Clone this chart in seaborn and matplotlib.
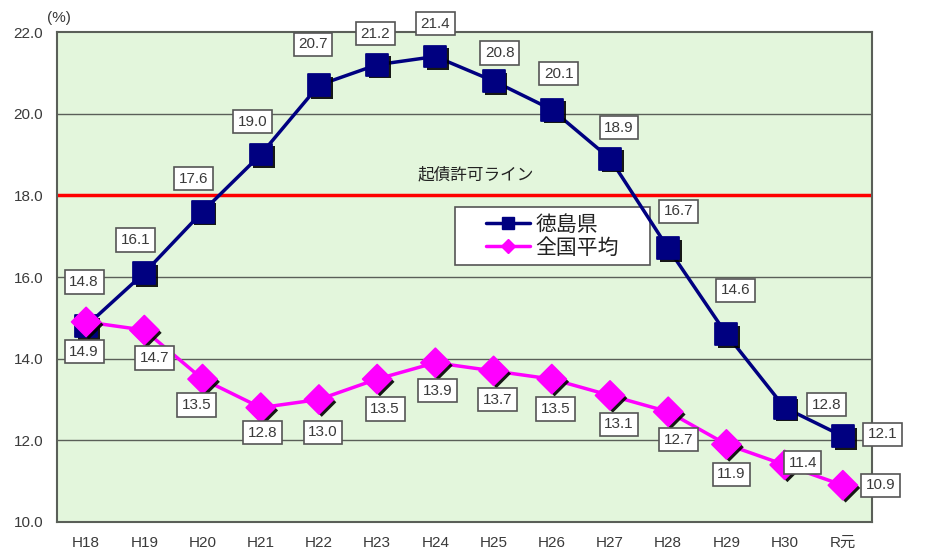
import matplotlib
matplotlib.use("Agg")
import matplotlib.pyplot as plt
import matplotlib.patheffects as pe
from matplotlib.lines import Line2D
from matplotlib.patches import Rectangle
import seaborn as sns
import pandas as pd

# data
years = ["H18", "H19", "H20", "H21", "H22", "H23", "H24",
         "H25", "H26", "H27", "H28", "H29", "H30", "R元"]
tokushima = [14.8, 16.1, 17.6, 19.0, 20.7, 21.2, 21.4,
             20.8, 20.1, 18.9, 16.7, 14.6, 12.8, 12.1]
national = [14.9, 14.7, 13.5, 12.8, 13.0, 13.5, 13.9,
            13.7, 13.5, 13.1, 12.7, 11.9, 11.4, 10.9]
limit_line = 18.0
limit_label = "起債許可ライン"

# label offsets in pixels (dx, dy)
tok_off = [(-2, 44), (-9, 33), (-9, 33), (-8, 33), (-6, 41), (-2, 31), (0, 33),
           (6, 28), (7, 36), (9, 31), (10, 37), (9, 44), (42, 3), (40, 2)]
nat_off = [(-2, -30), (10, -28), (-6, -26), (2, -25), (4, -33), (8, -30), (2, -28),
           (4, -29), (4, -30), (9, -29), (10, -28), (5, -30), (18, 2), (38, 0)]

NAVY = "#000080"
MAGENTA = "#ff00ff"
BG = "#e3f6dc"
GRID = "#5a5f58"
TXT = "#3a3a3a"

sns.set_style("white")
plt.rcParams["font.family"] = ["Liberation Sans", "Noto Sans CJK JP", "DejaVu Sans"]

df = pd.DataFrame({"year": years, "徳島県": tokushima, "全国平均": national})

fig = plt.figure(figsize=(9.3, 5.54), dpi=100)
ax = fig.add_axes([0.0613, 0.0578, 0.8763, 0.8844])
ax.set_facecolor(BG)

for v in [12, 14, 16, 20]:
    ax.axhline(v, color=GRID, lw=1.0, zorder=1)
ax.axhline(limit_line, color="#ff0000", lw=2.5, zorder=2)

# legend box drawn separately so it can be wider than the entries
ax.add_patch(Rectangle((0.488, 0.5245), 0.2393, 0.1184, transform=ax.transAxes,
                       fc="white", ec="#555555", lw=1.2, zorder=2.5))

shadow = [pe.SimplePatchShadow(offset=(2, -2), shadow_rgbFace="black", alpha=0.9),
          pe.Normal()]

sns.lineplot(data=df, x="year", y="徳島県", color=NAVY, lw=2.5, ax=ax,
             sort=False, zorder=3)
sns.lineplot(data=df, x="year", y="全国平均", color=MAGENTA, lw=2.5, ax=ax,
             sort=False, zorder=3)
sns.scatterplot(data=df, x="year", y="徳島県", marker="s", s=250, color=NAVY,
                edgecolor=NAVY, ax=ax, zorder=4, path_effects=shadow)
sns.scatterplot(data=df, x="year", y="全国平均", marker="D", s=220, color=MAGENTA,
                edgecolor=MAGENTA, ax=ax, zorder=5, path_effects=shadow)

box = dict(boxstyle="square,pad=0.3", fc="white", ec="#555555", lw=1.2)
for i, v in enumerate(tokushima):
    ax.annotate(f"{v:.1f}", (i, v), xytext=tok_off[i], textcoords="offset pixels",
                ha="center", va="center", fontsize=11, color=TXT,
                bbox=box, zorder=6)
for i, v in enumerate(national):
    ax.annotate(f"{v:.1f}", (i, v), xytext=nat_off[i], textcoords="offset pixels",
                ha="center", va="center", fontsize=11, color=TXT,
                bbox=box, zorder=6)

ax.text(6.7, 18.5, limit_label, ha="center", va="center", fontsize=12,
        color="#222222", family=["Noto Sans CJK JP"])

ax.set_xlim(-0.5, 13.5)
ax.set_ylim(10, 22)
ax.set_yticks([10, 12, 14, 16, 18, 20, 22])
ax.set_yticklabels([f"{t:.1f}" for t in [10, 12, 14, 16, 18, 20, 22]])
ax.set_xlabel("")
ax.set_ylabel("")
ax.tick_params(axis="y", length=0, labelsize=11, labelcolor=TXT, pad=10)
ax.tick_params(axis="x", which="major", length=0, labelsize=11,
               labelcolor=TXT, pad=10)
ax.set_xticks([i + 0.5 for i in range(13)], minor=True)
ax.tick_params(axis="x", which="minor", direction="in", length=4,
               color=GRID, width=1.2)
for s in ax.spines.values():
    s.set_color(GRID)
    s.set_linewidth(1.5)
ax.text(-0.012, 1.029, "(%)", transform=ax.transAxes, fontsize=11,
        color=TXT, ha="left", va="center")

handles = [Line2D([], [], color=NAVY, lw=2.5, marker="s", markersize=8, label="徳島県"),
           Line2D([], [], color=MAGENTA, lw=2.5, marker="D", markersize=7, label="全国平均")]
leg = ax.legend(handles=handles, loc="center", bbox_to_anchor=(0.608, 0.5837),
                frameon=False, prop={"family": "Noto Sans CJK JP", "size": 15},
                handlelength=2.1, borderpad=0, labelspacing=0.05,
                borderaxespad=0, handletextpad=0.25)
leg.set_zorder(8)
for t in leg.get_texts():
    t.set_color("#222222")

fig.savefig("out.png", dpi=100)
